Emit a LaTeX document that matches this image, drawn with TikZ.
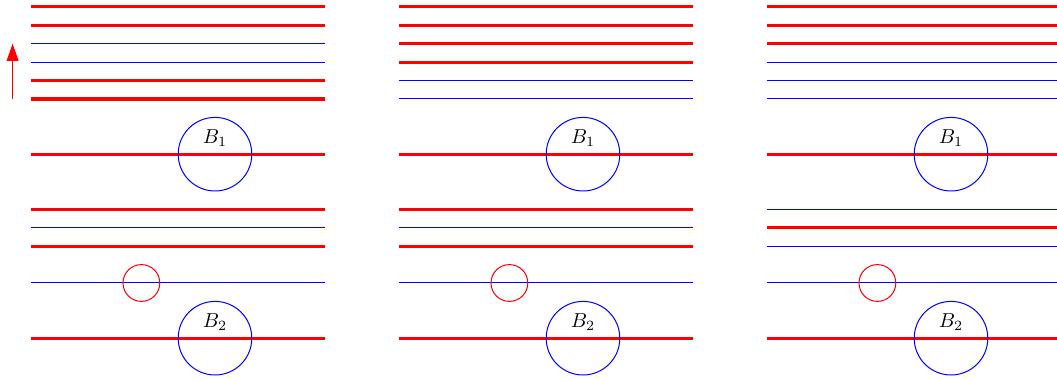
\documentclass[tikz,border=0pt]{standalone}
\usepackage{tikz}
\usetikzlibrary{arrows.meta}

\begin{document}
\begin{tikzpicture}[
  x=0.32cm, y=0.32cm,
  hot/.style={draw=red, line width=1.5pt},
  cold/.style={draw=blue, line width=0.5pt},
  ball/.style={draw=blue, line width=0.5pt},
  seed/.style={draw=red, line width=0.5pt},
  lift/.style={-{Triangle[length=8.4pt, width=5.8pt]}, draw=red, line width=0.5pt}
]
\useasboundingbox (-1.685,0.38) rectangle (55.76,-20.22);

% Arrow on the left
\coordinate (foot) at (-1,-5);
\coordinate (head) at (-1,-2);
\draw[lift] (foot) -- (head);

% Panel 1
\begin{scope}
  \foreach \y/\s in {0/hot,1/hot,2/cold,3/cold,4/hot,5/hot,8/hot,11/hot,12/cold,13/hot,15/cold,18/hot}
    \draw[\s] (0,-\y) -- (16,-\y);
  \draw[ball] (10,-8) circle (2);
  \node (b1a) at (10,-7.1) {$B_1$};
  \draw[seed] (6,-15) circle (1);
  \draw[ball] (10,-18) circle (2);
  \node (b2a) at (10,-17.1) {$B_2$};
\end{scope}

% Panel 2
\begin{scope}[shift={(20,0)}]
  \foreach \y/\s in {0/hot,1/hot,2/hot,3/hot,4/cold,5/cold,8/hot,11/hot,12/cold,13/hot,15/cold,18/hot}
    \draw[\s] (0,-\y) -- (16,-\y);
  \draw[ball] (10,-8) circle (2);
  \node (b1b) at (10,-7.1) {$B_1$};
  \draw[seed] (6,-15) circle (1);
  \draw[ball] (10,-18) circle (2);
  \node (b2b) at (10,-17.1) {$B_2$};
\end{scope}

% Panel 3
\begin{scope}[shift={(40,0)}]
  \foreach \y/\s in {0/hot,1/hot,2/hot,3/cold,4/cold,5/cold,8/hot,11/cold,12/hot,13/cold,15/cold,18/hot}
    \draw[\s] (0,-\y) -- (16,-\y);
  \draw[ball] (10,-8) circle (2);
  \node (b1c) at (10,-7.1) {$B_1$};
  \draw[seed] (6,-15) circle (1);
  \draw[ball] (10,-18) circle (2);
  \node (b2c) at (10,-17.1) {$B_2$};
\end{scope}

\end{tikzpicture}
\end{document}
